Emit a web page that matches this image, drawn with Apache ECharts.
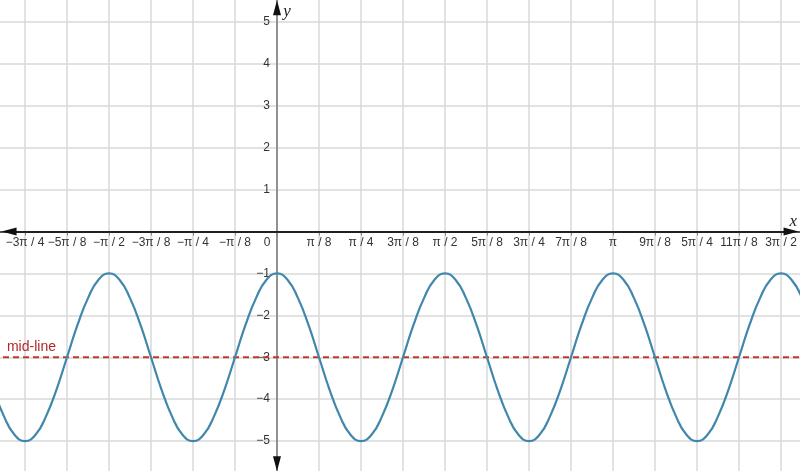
<!DOCTYPE html>
<html><head><meta charset="utf-8">
<script src="https://cdn.jsdelivr.net/npm/echarts@6/dist/echarts.min.js"></script>
<style>html,body{margin:0;padding:0;background:#fff}#c{width:800px;height:471px}</style>
</head><body><div id="c"></div>
<script>
// x positions of the curve samples, in units of π/32
const xPi32 = [-27,-26,-25,-24,-23,-22,-21,-20,-19,-18,-17,
  -16,-15,-14,-13,-12,-11,-10,-9,-8,-7,-6,-5,-4,-3,-2,-1,
  0,1,2,3,4,5,6,7,8,9,10,11,12,13,14,15,
  16,17,18,19,20,21,22,23,24,25,26,27,28,29,30,31,
  32,33,34,35,36,37,38,39,40,41,42,43,44,45,46,47,
  48,49,50];
// curve values
const yVals = [-3.77,-4.41,-4.85,-5,-4.85,-4.41,-3.77,-3,-2.23,-1.59,-1.15,
  -1,-1.15,-1.59,-2.23,-3,-3.77,-4.41,-4.85,-5,-4.85,-4.41,-3.77,-3,-2.23,-1.59,-1.15,
  -1,-1.15,-1.59,-2.23,-3,-3.77,-4.41,-4.85,-5,-4.85,-4.41,-3.77,-3,-2.23,-1.59,-1.15,
  -1,-1.15,-1.59,-2.23,-3,-3.77,-4.41,-4.85,-5,-4.85,-4.41,-3.77,-3,-2.23,-1.59,-1.15,
  -1,-1.15,-1.59,-2.23,-3,-3.77,-4.41,-4.85,-5,-4.85,-4.41,-3.77,-3,-2.23,-1.59,-1.15,
  -1,-1.15,-1.59];
// x ticks in units of π/8
const xTickValues = [-6,-5,-4,-3,-2,-1,0,1,2,3,4,5,6,7,8,9,10,11,12];
const xTickLabels = ['−3π / 4','−5π / 8','−π / 2','−3π / 8','−π / 4','−π / 8','0','π / 8','π / 4','3π / 8','π / 2','5π / 8','3π / 4','7π / 8','π','9π / 8','5π / 4','11π / 8','3π / 2'];
const yTickValues = [-5,-4,-3,-2,-1,1,2,3,4,5];
const yTickLabels = ['−5','−4','−3','−2','−1','1','2','3','4','5'];
const midLineX = [-7, 13];
const midLineY = [-3, -3];
const midLineLabel = 'mid-line';

const X_MIN = -7, X_MAX = 13, Y_MIN = -6, Y_MAX = 6;
// axis arrow end points (data units)
const xArrowL = -6.38, xArrowR = 12.24, yArrowB = -5.54, yArrowT = 5.335;

const curveData = xPi32.map((k, i) => [k / 4, yVals[i]]);
const midData = midLineX.map((x, i) => [x, midLineY[i]]);

// grid layout (pixels)
const G_LEFT = -17, G_RIGHT = -23, G_TOP = -20, G_BOTTOM = -12;
const W = 800, H = 471;
const gw = W - G_LEFT - G_RIGHT, gh = H - G_TOP - G_BOTTOM;
// move the axes onto the zero lines
const xZeroPx = G_LEFT + gw * (0 - X_MIN) / (X_MAX - X_MIN);
const yZeroPx = G_TOP + gh * (Y_MAX - 0) / (Y_MAX - Y_MIN);
const xAxisOffset = -((H - G_BOTTOM) - yZeroPx);
const yAxisOffset = -(xZeroPx - G_LEFT);

const FONT = 'Liberation Sans, Arial, sans-serif';
const chart = echarts.init(document.getElementById('c'), null, {renderer: 'canvas'});
chart.setOption({
  animation: false,
  backgroundColor: '#ffffff',
  grid: {left: G_LEFT, right: G_RIGHT, top: G_TOP, bottom: G_BOTTOM, containLabel: false, outerBoundsMode: 'none'},
  xAxis: {
    type: 'value', min: X_MIN, max: X_MAX, interval: 1,
    position: 'bottom', offset: xAxisOffset,
    axisLine: {show: true, onZero: false, lineStyle: {color: '#222', width: 1.5}},
    axisTick: {show: true, length: 4, lineStyle: {color: '#888', width: 1}},
    axisLabel: {
      color: '#333', fontSize: 12, fontFamily: FONT, margin: 5,
      formatter: v => {
        const i = xTickValues.indexOf(Math.round(v));
        if (i < 0) return '';
        if (xTickValues[i] === 0) return '{z|0}';
        return xTickLabels[i];
      },
      rich: {z: {color: '#333', fontSize: 12, fontFamily: FONT, padding: [0, 20, 0, 0]}}
    },
    splitLine: {show: true, lineStyle: {color: '#d8d8d8', width: 1.5}}
  },
  yAxis: {
    type: 'value', min: Y_MIN, max: Y_MAX, interval: 1,
    position: 'left', offset: yAxisOffset,
    axisLine: {show: true, onZero: false, lineStyle: {color: '#777', width: 1.5}},
    axisTick: {show: false},
    axisLabel: {
      color: '#333', fontSize: 12, fontFamily: FONT, margin: 7,
      formatter: v => {
        const i = yTickValues.indexOf(Math.round(v));
        return i < 0 ? '' : yTickLabels[i];
      }
    },
    splitLine: {show: true, lineStyle: {color: '#d8d8d8', width: 1.5}}
  },
  series: [
    {
      type: 'line', data: curveData, smooth: 0.5, showSymbol: false, symbol: 'none',
      lineStyle: {color: '#3f87ab', width: 2.2}, z: 4, silent: true
    },
    {
      type: 'line', data: midData, showSymbol: false, symbol: 'none',
      lineStyle: {color: '#c0392b', width: 2, type: [6, 4]}, z: 3, silent: true,
      markPoint: {
        symbol: 'circle', symbolSize: 0, silent: true,
        data: [{coord: [-6.43, -2.75]}],
        label: {show: true, position: 'right', distance: 0, formatter: midLineLabel,
          color: '#b0282a', fontSize: 14, fontFamily: FONT}
      }
    },
    {
      type: 'line', data: [], z: 5, silent: true,
      markLine: {
        silent: true, symbol: ['triangle', 'triangle'], symbolSize: [8, 15],
        label: {show: false},
        lineStyle: {color: '#111', width: 1.5, type: 'solid'},
        data: [
          [{coord: [xArrowL, 0]}, {coord: [xArrowR, 0]}],
          [{coord: [0, yArrowB], lineStyle: {color: '#111', width: 0, type: 'solid'}}, {coord: [0, yArrowT]}]
        ]
      },
      markPoint: {
        symbol: 'circle', symbolSize: 0, silent: true,
        label: {show: true, position: 'inside', color: '#222', fontSize: 17,
          fontStyle: 'italic', fontFamily: 'Liberation Serif, DejaVu Serif, serif'},
        data: [
          {coord: [12.29, 0.23], label: {formatter: 'x'}},
          {coord: [0.24, 5.24], label: {formatter: 'y'}}
        ]
      }
    }
  ]
});
</script>
</body></html>
